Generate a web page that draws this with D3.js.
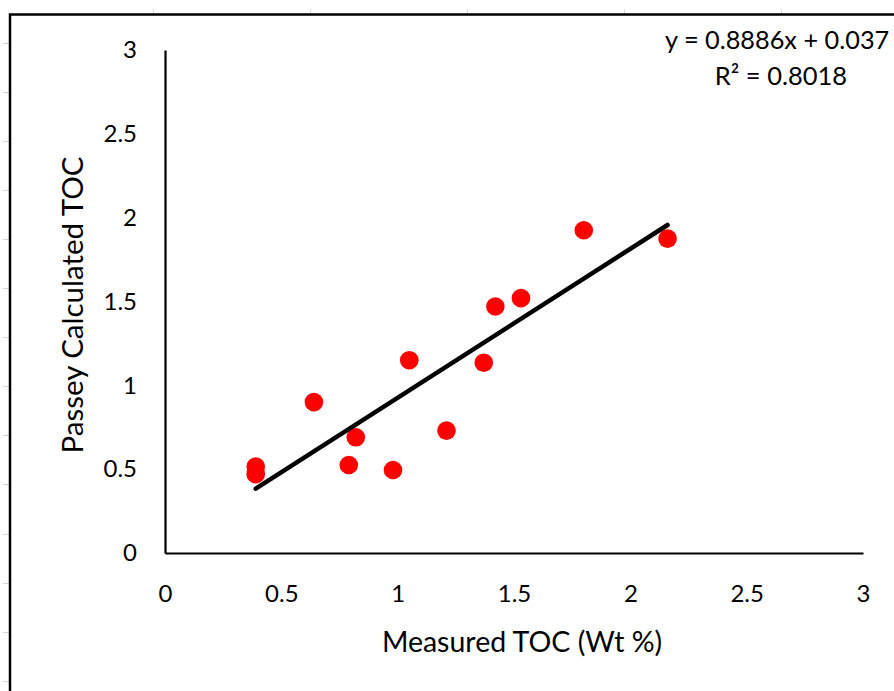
<!DOCTYPE html>
<html>
<head>
<meta charset="utf-8">
<script src="https://cdn.jsdelivr.net/npm/d3@7"></script>
<style>
  body { margin: 0; background: #fff; }
  svg { display: block; font-family: Lato, "Open Sans", sans-serif; }
</style>
</head>
<body>
<div id="chart"></div>
<script>
const width = 894
const height = 691

// values
const measuredTOC = [0.39, 0.39, 0.64, 0.82, 0.79, 0.98, 1.05, 1.21, 1.37, 1.42, 1.53, 1.80, 2.16]
const passeyTOC   = [0.515, 0.47, 0.90, 0.69, 0.525, 0.495, 1.15, 0.73, 1.135, 1.47, 1.52, 1.925, 1.875]
const trendCoef = [0.8886, 0.037]   // slope, intercept
const trendText = ["y = 0.8886x + 0.037", "R² = 0.8018"]
const tickValues = [0, 0.5, 1, 1.5, 2, 2.5, 3]

const svg = d3.select("#chart").append("svg")
    .attr("width", width)
    .attr("height", height)

// faint spreadsheet cell marks peeking out around the chart
const sheet = svg.append("g").attr("stroke", "#d4d4d4").attr("stroke-width", 1)
sheet.selectAll("line.col")
    .data(d3.range(153, width, 157))
    .join("line")
    .attr("x1", d => d + .5).attr("x2", d => d + .5)
    .attr("y1", 9).attr("y2", 14)
sheet.selectAll("line.row")
    .data(d3.range(42.5, height, 49.1))
    .join("line")
    .attr("x1", 3).attr("x2", 10)
    .attr("y1", d => Math.round(d) + .5).attr("y2", d => Math.round(d) + .5)

// chart area border
svg.append("rect")
    .attr("x", 10).attr("y", 14.5)
    .attr("width", width + 20).attr("height", height + 20)
    .attr("fill", "none")
    .attr("stroke", "#000")
    .attr("stroke-width", 2.5)

const x = d3.scaleLinear().domain([0, 3]).range([165, 863])
const y = d3.scaleLinear().domain([0, 3]).range([553, 50])

let xAxis = svg.append("g")
    .attr("transform", `translate(0, ${y(0)})`)
    .call(d3.axisBottom(x).tickValues(tickValues).tickFormat(d3.format("")).tickSize(0).tickSizeOuter(0).tickPadding(32))
let yAxis = svg.append("g")
    .attr("transform", `translate(${x(0)}, 0)`)
    .call(d3.axisLeft(y).tickValues(tickValues).tickFormat(d3.format("")).tickSize(0).tickSizeOuter(0).tickPadding(28))

svg.selectAll(".domain").attr("stroke", "#000").attr("stroke-width", 2.2)
svg.selectAll(".tick text")
    .attr("font-family", "Lato, sans-serif")
    .attr("font-size", 24)
    .attr("fill", "#000")

// points
svg.append("g").selectAll("circle")
    .data(measuredTOC.map((m, i) => [m, passeyTOC[i]]))
    .join("circle")
    .attr("cx", d => x(d[0]))
    .attr("cy", d => y(d[1]))
    .attr("r", 9.3)
    .attr("fill", "#ff0000")

// linear trendline over the data range
const xExt = d3.extent(measuredTOC)
svg.append("line")
    .attr("x1", x(xExt[0])).attr("y1", y(trendCoef[0] * xExt[0] + trendCoef[1]))
    .attr("x2", x(xExt[1])).attr("y2", y(trendCoef[0] * xExt[1] + trendCoef[1]))
    .attr("stroke", "#000")
    .attr("stroke-width", 4.5)
    .attr("stroke-linecap", "round")

// trendline label
svg.append("text")
    .attr("x", 665).attr("y", 49)
    .attr("font-size", 25.3)
    .text(trendText[0])
svg.append("text")
    .attr("x", 781).attr("y", 85)
    .attr("text-anchor", "middle")
    .attr("font-size", 25.5)
    .text(trendText[1])

// axis titles
svg.append("text")
    .attr("x", 522).attr("y", 652)
    .attr("text-anchor", "middle")
    .attr("font-size", 28.5)
    .text("Measured TOC (Wt %)")
svg.append("text")
    .attr("transform", "translate(83, 305) rotate(-90)")
    .attr("text-anchor", "middle")
    .attr("font-size", 29.5)
    .text("Passey Calculated TOC")
</script>
</body>
</html>
